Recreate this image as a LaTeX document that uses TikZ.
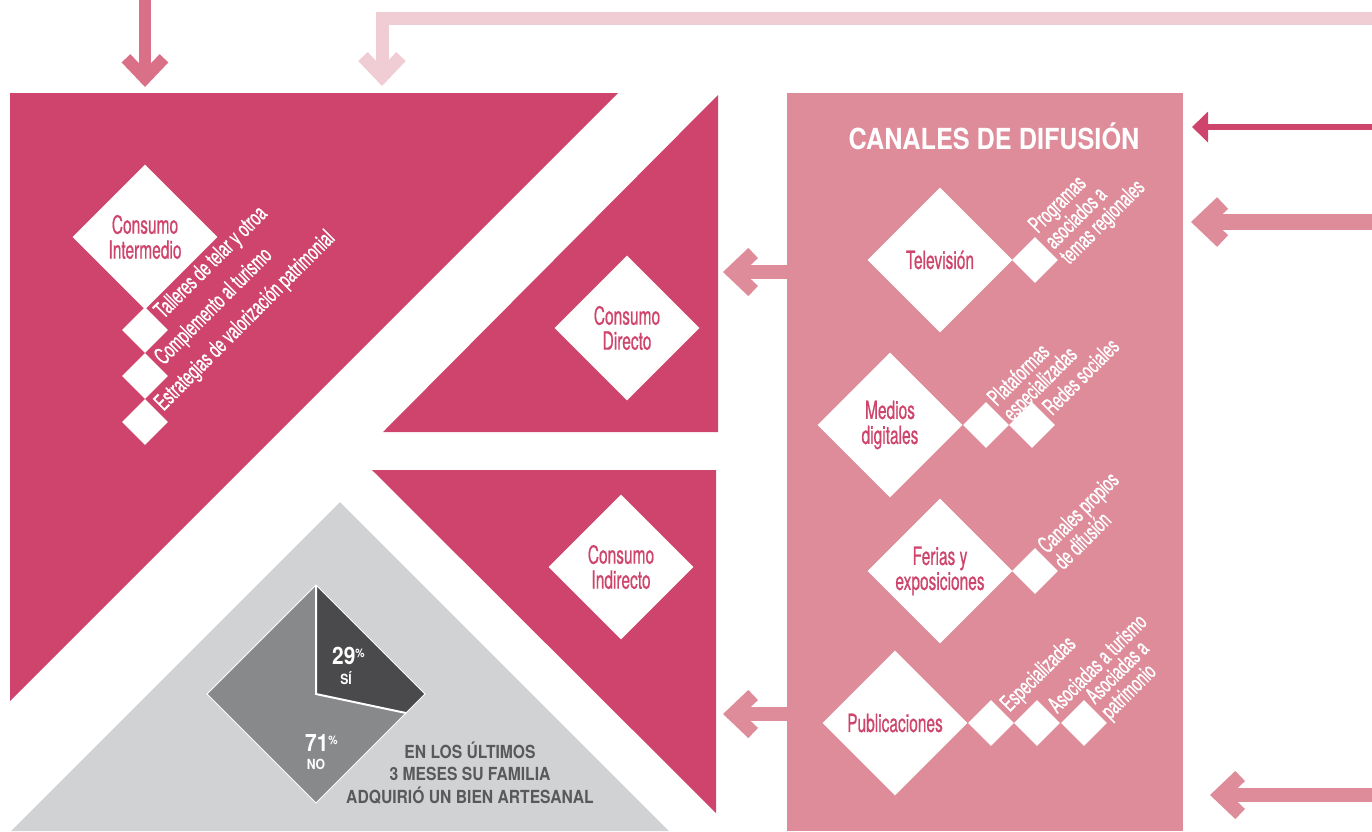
\documentclass[tikz,border=0pt]{standalone}
\usepackage{fontspec}
\setmainfont{TeX Gyre Heros}
\newfontfamily\condfont{TeX Gyre Heros}[FakeStretch=0.62,FakeBold=0.6]
\newfontfamily\condbold{TeX Gyre Heros}[FakeStretch=0.87]
\usetikzlibrary{arrows.meta,shapes.geometric}

\definecolor{fuerte}{RGB}{206,68,108}
\definecolor{rosa}{RGB}{222,140,154}
\definecolor{palido}{RGB}{240,205,212}
\definecolor{flechasup}{RGB}{217,112,136}
\definecolor{grisclaro}{RGB}{209,210,212}
\definecolor{grisoscuro}{RGB}{74,74,76}
\definecolor{grismedio}{RGB}{136,137,139}
\definecolor{gristexto}{RGB}{88,89,91}

\tikzset{
  bigdia/.style={diamond,fill=white,inner sep=0pt,minimum width=145pt,minimum height=145pt,
    text=fuerte,align=center,font=\condfont\fontsize{25}{25}\selectfont},
  smalldia/.style={diamond,fill=white,inner sep=0pt,minimum width=46pt,minimum height=46pt},
  sub/.style={rotate=45,anchor=west,text=white,align=left,inner sep=4pt,
    font=\condfont\fontsize{23}{21.5}\selectfont},
  barb/.style={line width=14pt,draw=rosa,-{Straight Barb[length=20pt,width=38pt]}},
  pct/.style={text=white,inner sep=0pt,font=\condbold\bfseries\fontsize{24}{24}\selectfont},
  pctlbl/.style={text=white,inner sep=0pt,font=\condbold\bfseries\fontsize{14}{14}\selectfont},
}

\begin{document}
\begin{tikzpicture}[x=1pt,y=-1pt]
\useasboundingbox (0,0) rectangle (1372,831);

% bloques de fondo
\fill[fuerte] (10,93) -- (618,93) -- (10,701) -- cycle;
\fill[fuerte] (718,95) -- (718,432) -- (383,432) -- cycle;
\fill[fuerte] (372,470) -- (716,470) -- (716,813) -- cycle;
\fill[grisclaro] (340,502) -- (669,831) -- (11,831) -- cycle;
\fill[rosa] (787,93) rectangle (1183,831);

% consumo
\node[bigdia] (inter) at (145,237) {Consumo\\Intermedio};
\node[smalldia] (i1) at (145,330) {};
\node[smalldia] (i2) at (145,376) {};
\node[smalldia] (i3) at (145,422) {};
\node[sub] (ti1) at (i1.north east) {Talleres de telar y otroa};
\node[sub] (ti2) at (i2.north east) {Complemento al turismo};
\node[sub] (ti3) at (i3.north east) {Estrategias de valorización patrimonial};
\node[bigdia] (directo) at (627,328) {Consumo\\Directo};
\node[bigdia] (indirecto) at (621,567) {Consumo\\Indirecto};

% canales
\node[text=white,anchor=base,inner sep=0pt,font=\condbold\bfseries\fontsize{29}{29}\selectfont]
  (titulo) at (994,149) {CANALES DE DIFUSIÓN};
\node[bigdia] (tv) at (940,260) {Televisión};
\node[smalldia] (tv1) at (1035,260) {};
\node[sub] (ttv1) at (tv1.north east) {Programas\\asociados a\\temas regionales};
\node[bigdia] (medios) at (890,425) {Medios\\digitales};
\node[smalldia] (m1) at (986,425) {};
\node[smalldia] (m2) at (1032,425) {};
\node[sub] (tm1) at (m1.north east) {Plataformas\\especializadas};
\node[sub] (tm2) at (m2.north east) {Redes sociales};
\node[bigdia] (ferias) at (940,571) {Ferias y\\exposiciones};
\node[smalldia] (f1) at (1035,571) {};
\node[sub] (tf1) at (f1.north east) {Canales propios\\de difusión};
\node[bigdia] (publi) at (895,723) {Publicaciones};
\node[smalldia] (p1) at (991,723) {};
\node[smalldia] (p2) at (1037,723) {};
\node[smalldia] (p3) at (1084,723) {};
\node[sub] (tp1) at (p1.north east) {Especializadas};
\node[sub] (tp2) at (p2.north east) {Asociadas a turismo};
\node[sub] (tp3) at (p3.north east) {Asociadas a\\patrimonio};

% torta
\coordinate (pc) at (316,694);
\coordinate (ptop) at (316,585);
\coordinate (pright) at (425,694);
\coordinate (pbot) at (316,803);
\coordinate (pleft) at (207,694);
\coordinate (pcut) at (406,713);
\fill[grisoscuro] (pc) -- (ptop) -- (pright) -- (pcut) -- cycle;
\fill[grismedio] (pc) -- (pcut) -- (pbot) -- (pleft) -- (ptop) -- cycle;
\draw[white,line width=2pt] (ptop) -- (pc) -- (pcut);
\draw[white,line width=1pt] (ptop) -- (pright) -- (pbot) -- (pleft) -- cycle;
\node[pct,anchor=base west] (si) at (332,664) {29\raisebox{7pt}{\fontsize{12}{12}\selectfont\%}};
\node[pctlbl,anchor=base] (silbl) at (346,684) {SÍ};
\node[pct,anchor=base west] (no) at (305,751) {71\raisebox{7pt}{\fontsize{12}{12}\selectfont\%}};
\node[pctlbl,anchor=base] (nolbl) at (316,769) {NO};
\node[text=gristexto,align=center,inner sep=0pt,font=\condbold\bfseries\fontsize{18}{22.5}\selectfont]
  (pregunta) at (470,773) {EN LOS ÚLTIMOS\\3 MESES SU FAMILIA\\ADQUIRIÓ UN BIEN ARTESANAL};

% flechas
\coordinate (a1) at (145,-5);
\coordinate (a1e) at (145,87);
\coordinate (a2) at (1380,18);
\coordinate (a2e) at (382,86);
\coordinate (a3) at (1380,127);
\coordinate (a3e) at (1192,127);
\coordinate (a4) at (1380,222);
\coordinate (a4e) at (1191,222);
\coordinate (a5) at (1380,795);
\coordinate (a5e) at (1210,795);
\coordinate (a6) at (787,272);
\coordinate (a6e) at (723,272);
\coordinate (a7) at (787,714);
\coordinate (a7e) at (723,714);
\draw[barb,draw=flechasup,line width=12pt] (a1) -- (a1e);
\draw[barb,draw=palido,line width=13pt,miter limit=10] (a2) -| (a2e);
\draw[draw=fuerte,line width=6pt,-{Triangle[length=16pt,width=30pt]}] (a3) -- (a3e);
\draw[barb,line width=16pt] (a4) -- (a4e);
\draw[barb] (a5) -- (a5e);
\draw[barb] (a6) -- (a6e);
\draw[barb] (a7) -- (a7e);
\end{tikzpicture}
\end{document}
